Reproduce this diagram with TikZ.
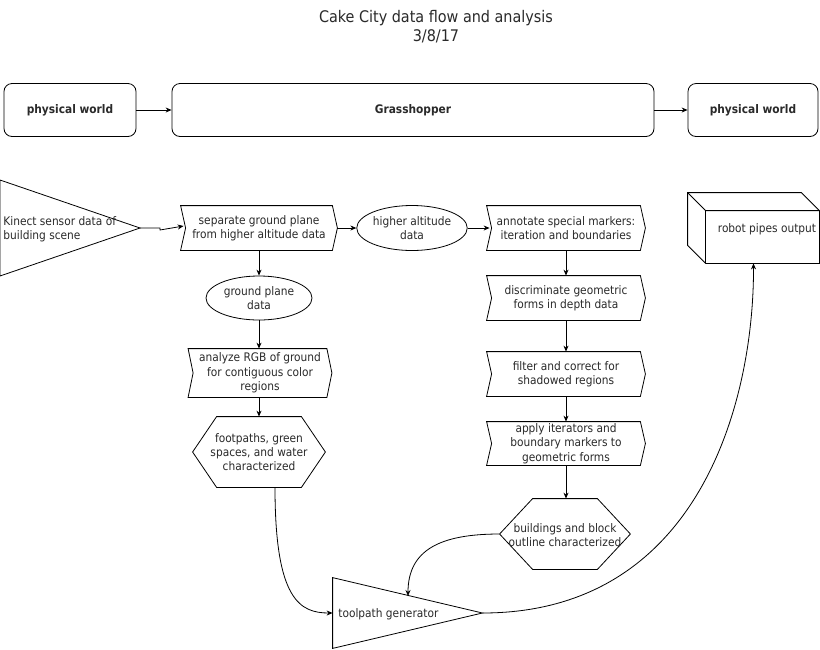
\documentclass[tikz,border=0pt]{standalone}
\usepackage{fontspec}
\setmainfont{DejaVu Sans Condensed}
\usetikzlibrary{shapes.geometric,arrows.meta}
\definecolor{txt}{HTML}{2A2A2A}
\newcommand\stepout[1]{\draw (#1.north west) -- ([xshift=-5pt]#1.north east) -- (#1.east) -- ([xshift=-5pt]#1.south east) -- (#1.south west) -- ([xshift=5pt]#1.west) -- cycle;}
\newcommand\hexout[2]{\draw (#1.west) -- ([xshift=#2]#1.north west) -- ([xshift=-#2]#1.north east) -- (#1.east) -- ([xshift=-#2]#1.south east) -- ([xshift=#2]#1.south west) -- cycle;}
\begin{document}
\begin{tikzpicture}[x=1pt,y=-1pt,line width=0.8pt,
  every node/.style={font=\fontsize{11.8}{14.3}\selectfont, text=txt, align=center, inner sep=0pt},
  area/.style 2 args={minimum width=#1, minimum height=#2},
  rbox/.style={draw, rounded corners=8pt},
  arr/.style={-{Stealth[length=6pt,width=5pt]}}]
\useasboundingbox (0,0) rectangle (820,649);
\fill[white] (0,0) rectangle (820,649);
% title
\node[font=\fontsize{16}{19}\selectfont] (title) at (436,27) {Cake City data flow and analysis\\3/8/17};
% top row
\node[rbox, area={132pt}{53pt}] (pw1) at (70,110) {\bfseries physical world};
\node[rbox, area={482pt}{53pt}] (gh) at (413,110) {\bfseries Grasshopper};
\node[rbox, area={130pt}{53pt}] (pw2) at (753,110) {\bfseries physical world};
\draw[arr] (pw1) -- (gh);
\draw[arr] (gh) -- (pw2);
% Kinect triangle
\coordinate (kinap) at (140,228);
\draw (0,180) -- (kinap) -- (0,276) -- cycle;
\node[anchor=west, align=left] (kin) at (3,229) {Kinect sensor data of\\building scene};
% left column
\node[area={156pt}{44pt}] (s1) at (259,228) {separate ground plane\\from higher altitude data};
\stepout{s1}
\node[ellipse, draw, area={106pt}{44pt}] (gp) at (259,298) {ground plane\\data};
\node[area={143pt}{48pt}] (rgb) at (260,373) {analyze RGB of ground\\for contiguous color\\regions};
\stepout{rgb}
\node[area={132pt}{70pt}] (ftp) at (259,452) {footpaths, green\\spaces, and water\\characterized};
\hexout{ftp}{24pt}
% middle
\node[ellipse, draw, area={105pt}{45pt}] (hi) at (412,228) {higher altitude\\data};
% right column
\node[area={158pt}{44pt}] (s2) at (566,228) {annotate special markers:\\iteration and boundaries};
\stepout{s2}
\node[area={158pt}{44pt}] (s3) at (566,298) {discriminate geometric\\forms in depth data};
\stepout{s3}
\node[area={158pt}{44pt}] (s4) at (566,374) {filter and correct for\\shadowed regions};
\stepout{s4}
\node[area={158pt}{43pt}] (s5) at (566,443.5) {apply iterators and\\boundary markers to\\geometric forms};
\stepout{s5}
\node[area={130pt}{70pt}] (bld) at (565,534) {};
\hexout{bld}{33pt}
\node (bldt) at (565,535) {buildings and block\\outline characterized};
% toolpath triangle
\node[area={149pt}{70pt}] (tp) at (407.5,613) {};
\draw (tp.north west) -- (tp.east) -- (tp.south west) -- cycle;
\node[anchor=west] (tpt) at (338,614) {toolpath generator};
\coordinate (tptop) at (408,596);
% robot cube
\node[area={131pt}{70pt}] (rob) at (753.5,228) {};
\draw (rob.north west) -- ([xshift=-18pt]rob.north east) -- ([yshift=-18pt]rob.north east) -- (rob.south east) -- ([xshift=18pt]rob.south west) -- ([yshift=18pt]rob.south west) -- cycle;
\draw (rob.north west) -- ([xshift=18pt,yshift=-18pt]rob.north west) -- ([yshift=-18pt]rob.north east);
\draw ([xshift=18pt,yshift=-18pt]rob.north west) -- ([xshift=18pt]rob.south west);
\node (robt) at (767,229) {robot pipes output};
% connectors
\draw[arr] (kinap) -- (160,228) -- (160,230) -- ([xshift=3pt,yshift=2pt]s1.west);
\draw[arr] (s1.east) -- (hi.west);
\draw[arr] (hi.east) -- ([xshift=3pt]s2.west);
\draw[arr] (s1.south) -- (gp.north);
\draw[arr] (gp.south) -- ([xshift=-1pt]rgb.north);
\draw[arr] ([xshift=-1pt]rgb.south) -- (ftp.north);
\draw[arr] (s2.south) -- (s3.north);
\draw[arr] (s3.south) -- (s4.north);
\draw[arr] (s4.south) -- (s5.north);
\draw[arr] (s5.south) -- ([xshift=1pt]bld.north);
\draw[arr] ([xshift=16pt]ftp.south) .. controls (275,600) and (300,613) .. (tp.west);
\draw[arr] (bld.west) .. controls (440,534) and (408,550) .. (tptop);
\draw[arr] (tp.east) .. controls (700,613) and (754,400) .. (rob.south);
\end{tikzpicture}
\end{document}
